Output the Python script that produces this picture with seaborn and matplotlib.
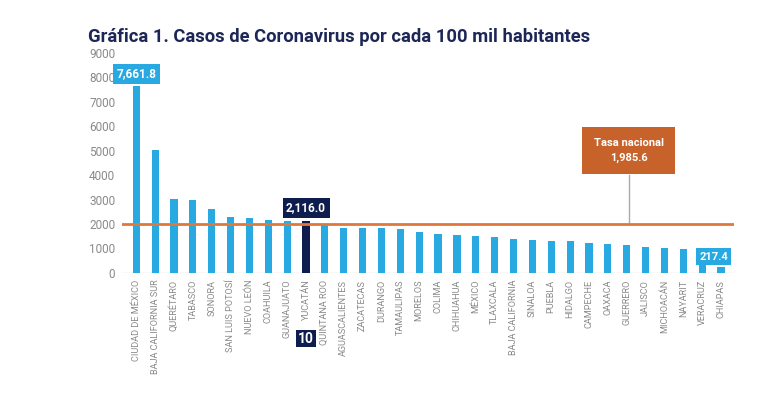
import pandas as pd
import seaborn as sns
import matplotlib.pyplot as plt

estados = [
    "CIUDAD DE MÉXICO", "BAJA CALIFORNIA SUR", "QUERÉTARO", "TABASCO", "SONORA",
    "SAN LUIS POTOSÍ", "NUEVO LEÓN", "COAHUILA", "GUANAJUATO", "YUCATÁN",
    "QUINTANA ROO", "AGUASCALIENTES", "ZACATECAS", "DURANGO", "TAMAULIPAS",
    "MORELOS", "COLIMA", "CHIHUAHUA", "MÉXICO", "TLAXCALA", "BAJA CALIFORNIA",
    "SINALOA", "PUEBLA", "HIDALGO", "CAMPECHE", "OAXACA", "GUERRERO", "JALISCO",
    "MICHOACÁN", "NAYARIT", "VERACRUZ", "CHIAPAS",
]
casos = [
    7661.8, 5030, 3030, 2980, 2600, 2270, 2250, 2160, 2130, 2116.0,
    1990, 1830, 1820, 1820, 1780, 1680, 1570, 1530, 1490, 1450, 1390,
    1350, 1300, 1290, 1210, 1170, 1130, 1060, 1020, 990, 950, 217.4,
]
tasa_nacional = 1985.6
destacado = "YUCATÁN"

AZUL = "#29a9e1"
MARINO = "#0e1d4e"
NARANJA = "#e2773a"
CAJA_NARANJA = "#c7622b"
GRIS = "#8a8a8a"

df = pd.DataFrame({"estado": estados, "casos": casos})
colores = {e: (MARINO if e == destacado else AZUL) for e in estados}

plt.rcParams["font.family"] = ["Roboto", "DejaVu Sans"]
fig = plt.figure(figsize=(7.68, 3.93), dpi=100)
ax = fig.add_axes([0.159, 0.306, 0.797, 0.559])

sns.barplot(data=df, x="estado", y="casos", hue="estado", palette=colores,
            legend=False, width=0.38, ax=ax, saturation=1)

ax.set_ylim(0, 9000)
ax.set_xlim(-0.75, 31.7)
ax.set_yticks(range(0, 9001, 1000))
ax.set_xlabel("")
ax.set_ylabel("")
for s in ax.spines.values():
    s.set_visible(False)
ax.axhline(0, color="#dddddd", lw=1, zorder=0)
ax.tick_params(axis="y", length=0, labelsize=8.5, labelcolor=GRIS, pad=5)
ax.tick_params(axis="x", length=0, labelsize=6.6, labelcolor=GRIS, pad=5)
plt.setp(ax.get_xticklabels(), rotation=90)

# tasa nacional
ax.axhline(tasa_nacional, color=NARANJA, lw=2, zorder=3)
ax.plot([26.1, 26.1], [tasa_nacional, 4000], color="#aaaaaa", lw=1, zorder=2)
ax.text(26.1, 5010, "Tasa nacional\n1,985.6", ha="center", va="center",
        color="white", fontsize=8, fontweight="bold", linespacing=1.5,
        bbox=dict(boxstyle="square,pad=1.05", fc=CAJA_NARANJA, ec="none"))

# etiquetas de valores
ax.text(0, 8150, "7,661.8", ha="center", va="center", color="white",
        fontsize=8.5, fontweight="bold",
        bbox=dict(boxstyle="square,pad=0.3", fc=AZUL, ec="none"))
ax.text(9, 2670, "2,116.0", ha="center", va="center", color="white",
        fontsize=8.5, fontweight="bold",
        bbox=dict(boxstyle="square,pad=0.3", fc=MARINO, ec="none"))
ax.text(30.6, 660, "217.4", ha="center", va="center", color="white",
        fontsize=8, fontweight="bold", zorder=5,
        bbox=dict(boxstyle="square,pad=0.3", fc=AZUL, ec="none"))
ax.text(9, -0.3, "10", transform=ax.get_xaxis_transform(), ha="center",
        va="center", color="white", fontsize=10, fontweight="bold",
        bbox=dict(boxstyle="square,pad=0.12", fc=MARINO, ec="none"))

fig.text(0.114, 0.905, "Gráfica 1. Casos de Coronavirus por cada 100 mil habitantes",
         color="#1c2657", fontsize=13.2, fontweight="bold", va="center")

fig.savefig("out.png", dpi=100, facecolor="white")
